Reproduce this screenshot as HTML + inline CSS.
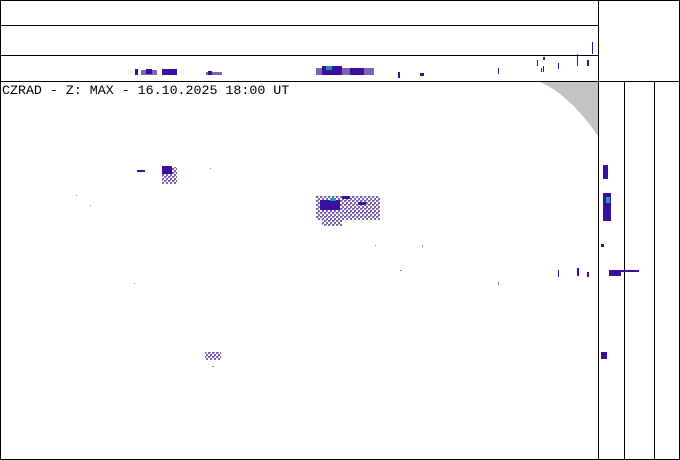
<!DOCTYPE html>
<html><head><meta charset="utf-8"><style>
html,body{margin:0;padding:0;background:#fff}
svg{display:block}
</style></head><body>
<svg width="680" height="460" viewBox="0 0 680 460" xmlns="http://www.w3.org/2000/svg" shape-rendering="crispEdges">
<defs>
<pattern id="sp" width="4" height="4" patternUnits="userSpaceOnUse">
<rect x="0" y="0" width="2" height="2" fill="#7a66b0"/><rect x="2" y="2" width="2" height="2" fill="#7a66b0"/><rect x="2" y="0" width="1" height="1" fill="#9a88c8"/>
</pattern>
</defs>
<rect x="0" y="0" width="680" height="460" fill="#fff"/>
<path d="M540,82 L598,82 L598,136 Q570,95 540,82 Z" fill="#c3c3c3"/>
<g fill="none" stroke="#000" stroke-width="1">
<rect x="0.5" y="0.5" width="679" height="459"/>
<line x1="0" y1="25.5" x2="598" y2="25.5"/>
<line x1="0" y1="55.5" x2="598" y2="55.5"/>
<line x1="0" y1="81.5" x2="680" y2="81.5"/>
<line x1="598.5" y1="0" x2="598.5" y2="460"/>
<line x1="624.5" y1="81" x2="624.5" y2="460"/>
<line x1="654.5" y1="81" x2="654.5" y2="460"/>
</g>
<text x="2" y="94" font-family="Liberation Mono, monospace" font-size="13.3" fill="#000">CZRAD - Z: MAX - 16.10.2025 18:00 UT</text>
<g fill="#3a0fa0">
<rect x="135" y="69" width="3" height="6"/><rect x="141" y="70" width="16" height="5" fill="#7a66b0"/><rect x="146" y="69" width="6" height="5"/>
<rect x="162" y="69" width="15" height="6"/><rect x="206" y="72" width="16" height="3" fill="#7a66b0"/><rect x="208" y="71" width="4" height="4"/>
<rect x="316" y="68" width="58" height="7" fill="#7a66b0"/><rect x="322" y="66" width="20" height="9"/><rect x="326" y="66" width="6" height="4" fill="#2090a0"/><rect x="350" y="68" width="14" height="7"/>
<rect x="398" y="72" width="2" height="6"/><rect x="420" y="73" width="4" height="3"/><rect x="498" y="68" width="1" height="6"/>
<rect x="537" y="60" width="1" height="6"/><rect x="543" y="57" width="2" height="3"/><rect x="541" y="68" width="1" height="4"/><rect x="543" y="66" width="1" height="6"/>
<rect x="558" y="63" width="1" height="6"/><rect x="577" y="54" width="1" height="12"/><rect x="587" y="60" width="2" height="6"/><rect x="592" y="42" width="1" height="12"/>
</g>
<g fill="url(#sp)">
<rect x="162" y="167" width="15" height="17"/>
<rect x="316" y="196" width="64" height="24"/><rect x="322" y="206" width="20" height="20"/>
<rect x="205" y="352" width="16" height="8"/>
</g>
<g fill="#3a0fa0">
<rect x="162" y="166" width="10" height="8"/><rect x="137" y="170" width="8" height="2"/>
<rect x="320" y="200" width="20" height="10"/><rect x="342" y="196" width="8" height="3"/><rect x="358" y="202" width="8" height="3"/>
<rect x="603" y="165" width="5" height="14"/><rect x="603" y="193" width="8" height="28"/><rect x="601" y="244" width="3" height="3"/>
<rect x="609" y="270" width="12" height="6"/><rect x="621" y="270" width="18" height="2"/><rect x="601" y="352" width="6" height="7"/>
<rect x="558" y="270" width="1" height="7"/><rect x="577" y="268" width="2" height="8"/><rect x="587" y="272" width="2" height="5"/>
</g>
<rect x="606" y="197" width="4" height="6" fill="#20a0a0"/>
<rect x="330" y="198" width="6" height="3" fill="#20a0a0"/>
<g fill="#888">
<rect x="76" y="195" width="1" height="1"/><rect x="90" y="205" width="1" height="1"/><rect x="210" y="168" width="1" height="1"/>
<rect x="375" y="245" width="1" height="1"/><rect x="400" y="270" width="2" height="1"/><rect x="422" y="245" width="1" height="2"/>
<rect x="134" y="283" width="1" height="1"/><rect x="212" y="366" width="2" height="1"/><rect x="498" y="282" width="1" height="3"/>
</g>
</svg>
</body></html>
